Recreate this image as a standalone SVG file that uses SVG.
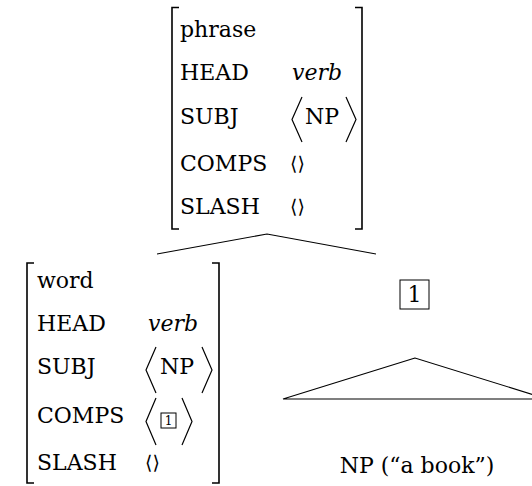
<svg xmlns="http://www.w3.org/2000/svg" width="532" height="486" viewBox="0 0 532 486">
<style>
text{font-family:'DejaVu Serif','Liberation Serif',serif;font-size:22px;fill:#000}
text.it{font-style:italic}
text.ang{font-family:'DejaVu Serif','DejaVu Sans',serif;font-size:19px}
text.sm{font-size:12px}
.br{fill:none;stroke:#000;stroke-width:1.6}
.dl{fill:none;stroke:#000;stroke-width:1.2}
.ln{fill:none;stroke:#000;stroke-width:1.1}
.bx{fill:none;stroke:#000;stroke-width:1}
</style>
<g id="phrase-avm">
<path class="br" d="M179,7.5 H172 V229 H179"/>
<path class="br" d="M355,7.5 H362 V229 H355"/>
<text x="180" y="37">phrase</text>
<text x="180" y="80">HEAD</text>
<text class="it" x="292" y="80">verb</text>
<text x="180" y="124">SUBJ</text>
<polyline class="dl" points="302,97 292,119.5 302,142"/>
<text x="305" y="124">NP</text>
<polyline class="dl" points="346,97 356,119.5 346,142"/>
<text x="180" y="171">COMPS</text>
<text class="ang" x="290" y="170">⟨⟩</text>
<text x="180" y="214">SLASH</text>
<text class="ang" x="290" y="213">⟨⟩</text>
</g>
<g id="connectors">
<polyline class="ln" points="157,254 267,234 376,254"/>
<polygon class="ln" points="415,358 283,399 547,399"/>
</g>
<g id="word-avm">
<path class="br" d="M34,263 H27 V483 H34"/>
<path class="br" d="M212,263 H219 V483 H212"/>
<text x="37" y="288">word</text>
<text x="37" y="331">HEAD</text>
<text class="it" x="148" y="331">verb</text>
<text x="37" y="374">SUBJ</text>
<polyline class="dl" points="156,347 146,370 156,393"/>
<text x="160" y="374">NP</text>
<polyline class="dl" points="202,347 212,370 202,393"/>
<text x="37" y="423">COMPS</text>
<polyline class="dl" points="156,398 146,421.5 156,445"/>
<rect class="bx" x="161" y="413" width="15" height="15"/>
<text class="sm" x="168.5" y="425" text-anchor="middle">1</text>
<polyline class="dl" points="182,398 192,421.5 182,445"/>
<text x="37" y="470">SLASH</text>
<text class="ang" x="145" y="469">⟨⟩</text>
</g>
<g id="np-node">
<rect class="bx" x="400" y="280" width="29" height="29"/>
<text x="414.5" y="302" text-anchor="middle">1</text>
</g>
<g id="np-label">
<text x="417" y="473" text-anchor="middle">NP (“a book”)</text>
</g>
</svg>
